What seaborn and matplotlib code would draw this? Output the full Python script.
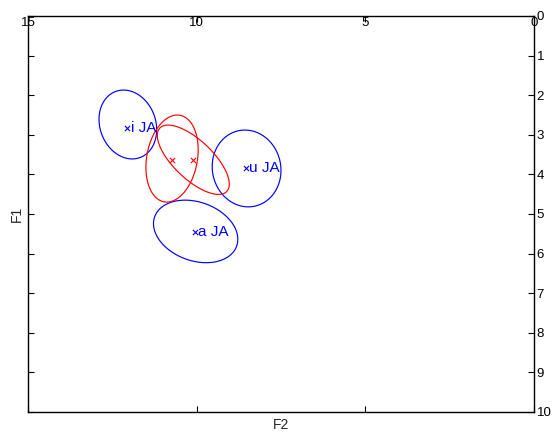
import numpy as np
import pandas as pd
import matplotlib
matplotlib.use("Agg")
import matplotlib.pyplot as plt
import seaborn as sns

# ---- data (F2 on x, F1 on y) ----
blue_labels = ["i JA", "u JA", "a JA"]
blue_f2 = [12.06, 8.54, 10.05]
blue_f1 = [2.82, 3.85, 5.45]
blue_cx = [12.04, 8.52, 10.03]
blue_cy = [2.74, 3.85, 5.44]
blue_sx = [0.855, 1.02, 1.25]
blue_sy = [0.87, 0.97, 0.79]
blue_rho = [-0.15, -0.05, -0.25]

red_f2 = [10.72, 10.12]
red_f1 = [3.64, 3.64]
red_cx = [10.73, 10.10]
red_cy = [3.60, 3.63]
red_sx = [0.775, 1.067]
red_sy = [1.10, 0.876]
red_rho = [0.20, -0.70]

x_ticks = [15, 10, 5, 0]
y_ticks = [0, 1, 2, 3, 4, 5, 6, 7, 8, 9, 10]

BLUE = "#0000ff"
RED = "#ff0000"

sns.set_style("white")
plt.rcParams["font.family"] = ["Liberation Sans", "DejaVu Sans"]

fig = plt.figure(figsize=(5.54, 4.32), dpi=100)
ax = fig.add_axes([28 / 554, 1 - 412 / 432, (534 - 28) / 554, (412 - 16) / 432])


def ellipse_pts(cx, cy, sx, sy, rho, n=300):
    t = np.linspace(0, 2 * np.pi, n)
    x = cx + sx * np.cos(t)
    y = cy + sy * (rho * np.cos(t) + np.sqrt(1 - rho ** 2) * np.sin(t))
    return x, y


for cx, cy, sx, sy, r in zip(blue_cx, blue_cy, blue_sx, blue_sy, blue_rho):
    ex, ey = ellipse_pts(cx, cy, sx, sy, r)
    ax.plot(ex, ey, color=BLUE, lw=0.85, solid_capstyle="butt",
            solid_joinstyle="round")
for cx, cy, sx, sy, r in zip(red_cx, red_cy, red_sx, red_sy, red_rho):
    ex, ey = ellipse_pts(cx, cy, sx, sy, r)
    ax.plot(ex, ey, color=RED, lw=0.85, solid_capstyle="butt",
            solid_joinstyle="round")

df_b = pd.DataFrame({"F2": blue_f2, "F1": blue_f1})
df_r = pd.DataFrame({"F2": red_f2, "F1": red_f1})
sns.scatterplot(data=df_b, x="F2", y="F1", marker="x", color=BLUE, s=14,
                linewidth=0.8, ax=ax, zorder=3)
sns.scatterplot(data=df_r, x="F2", y="F1", marker="x", color=RED, s=14,
                linewidth=0.8, ax=ax, zorder=3)

for lab, x, y in zip(blue_labels, blue_f2, blue_f1):
    ax.annotate(lab, (x, y), xytext=(2.5, 0), textcoords="offset points",
                ha="left", va="center", color=BLUE, fontsize=11)

ax.set_xlim(15, 0)
ax.set_ylim(10, 0)
ax.set_xticks(x_ticks)
ax.set_xticklabels([str(v) for v in x_ticks])
ax.set_yticks(y_ticks)
ax.set_yticklabels([str(v) for v in y_ticks])

ax.tick_params(axis="x", which="both", direction="in", top=True, bottom=True,
               labeltop=True, labelbottom=False, length=4, width=0.8,
               labelsize=9.5, pad=-9, colors="black")
ax.tick_params(axis="y", which="both", direction="in", left=True, right=True,
               labelleft=False, labelright=True, length=4, width=0.8,
               labelsize=9.5, pad=2, colors="black")

for s in ax.spines.values():
    s.set_visible(True)
    s.set_color("black")
    s.set_linewidth(1.0)

ax.set_xlabel("F2", fontsize=10, labelpad=4)
ax.xaxis.set_label_position("bottom")
ax.set_ylabel("F1", fontsize=10, labelpad=3)
ax.yaxis.set_label_position("left")
ax.grid(False)

fig.savefig("out.png", dpi=100)
